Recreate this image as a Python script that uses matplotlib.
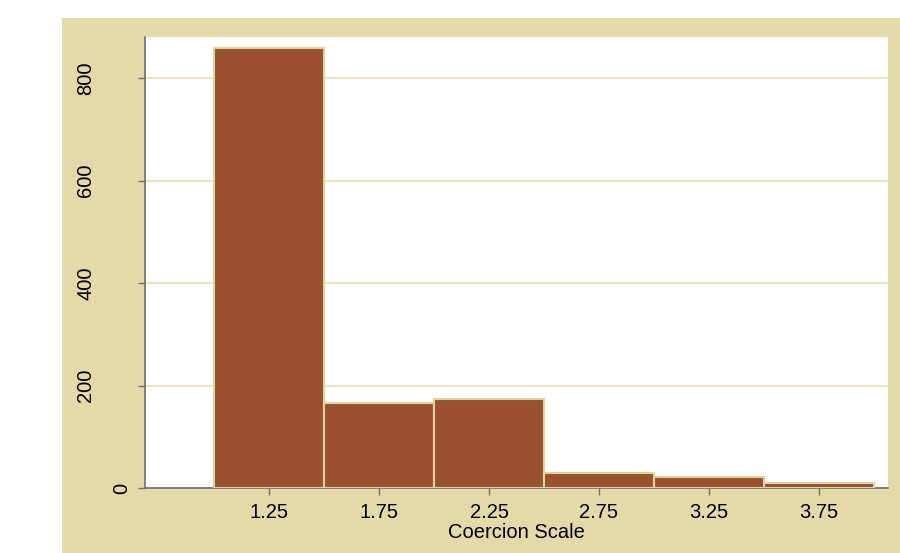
import matplotlib
matplotlib.use('Agg')
import matplotlib.pyplot as plt
import matplotlib.transforms as mtransforms
from matplotlib.patches import Rectangle

# histogram of the coercion scale (bin width 0.5)
bin_left = [1.0, 1.5, 2.0, 2.5, 3.0, 3.5]
counts = [858, 166, 174, 29, 21, 10]
xticks = [1.25, 1.75, 2.25, 2.75, 3.25, 3.75]
yticks = [0, 200, 400, 600, 800]

tan = '#e4d9a8'
brick = '#9c512e'

plt.rcParams['font.family'] = ['Liberation Sans', 'DejaVu Sans']

fig = plt.figure(figsize=(9, 5.53), dpi=100)
fig.patch.set_facecolor('white')
fig.patches.append(Rectangle((62 / 900, 0), 1 - 62 / 900, 1 - 18 / 553,
                             transform=fig.transFigure, facecolor=tan,
                             edgecolor='none', zorder=-1))

ax = fig.add_axes([145 / 900, 65 / 553, 743 / 900, 451 / 553])
ax.set_facecolor('white')

ax.bar(bin_left, counts, width=0.5, align='edge', color=brick,
       edgecolor='#ddd3a0', linewidth=1.5, zorder=3)

ax.set_xlim(0.686, 4.064)
ax.set_ylim(0, 880)
ax.set_xticks(xticks)
ax.set_xticklabels([f'{t:.2f}' for t in xticks])
ax.set_yticks(yticks)
ax.set_yticklabels([])

# y labels drawn by hand: the "0" sits closer to the axis in the original
trans = mtransforms.blended_transform_factory(fig.transFigure, ax.transData)
for t in yticks:
    xpix = 121.5 if t == 0 else 85.5
    ax.text(xpix / 900, t, str(t), transform=trans, rotation=90,
            ha='center', va='center', fontsize=14.5)

ax.yaxis.grid(True, color='#e8dfb0', linewidth=1.2, zorder=0)
ax.set_axisbelow(True)

for s in ['top', 'right']:
    ax.spines[s].set_visible(False)
for s in ['left', 'bottom']:
    ax.spines[s].set_color('#707070')
    ax.spines[s].set_linewidth(1.2)

ax.tick_params(axis='both', colors='#707070', labelcolor='black',
               length=5, width=1, labelsize=14.5)
ax.tick_params(axis='x', pad=6)

ax.set_xlabel('Coercion Scale', fontsize=14.5)
ax.xaxis.set_label_coords(0.5, -(523 - 488) / 451)

fig.savefig('out.png', dpi=100)
